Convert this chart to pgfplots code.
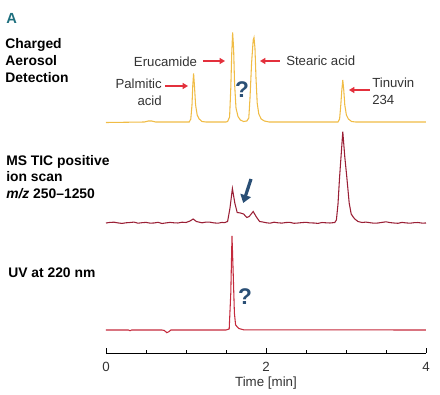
\documentclass[border=0pt]{standalone}
\usepackage{pgfplots}
\pgfplotsset{compat=1.18}
\usepackage{fontspec}
\setmainfont{Liberation Sans}
\usetikzlibrary{arrows.meta}
\definecolor{cad}{HTML}{F0BC45}
\definecolor{ms}{HTML}{9A1F35}
\definecolor{uv}{HTML}{C42A3C}
\definecolor{teal}{HTML}{1E6F7E}
\definecolor{qblue}{HTML}{2A4F75}
\definecolor{redarrow}{HTML}{E3303C}
\definecolor{txt}{HTML}{333333}
\begin{document}
\begin{tikzpicture}
\useasboundingbox (-79.5pt,-30.75pt) rectangle (250.5pt,264.75pt);
\begin{axis}[
  scale only axis,
  width=240pt, height=247.5pt,
  xmin=0, xmax=4, ymin=0, ymax=330,
  axis x line*=bottom, axis y line=none,
  xtick={0,2,4}, minor xtick={0.5,1,1.5,2.5,3,3.5},
  tick align=inside,
  major tick length=3.75pt, minor tick length=2.6pt,
  every tick/.style={black, line width=0.7pt},
  x axis line style={line width=0.7pt},
  /pgf/number format/assume math mode=true,
  tick label style={font=\fontsize{10}{12}\selectfont, text=txt},
  xticklabel style={yshift=-3.5pt},
  xlabel={Time [min]},
  xlabel style={font=\fontsize{10}{12}\selectfont, text=txt, yshift=3pt},
  clip=false,
]
% CAD
\addplot[cad, line width=0.8pt] coordinates {
(0.00,230.5) (0.30,230.8) (0.48,231) (0.53,232) (0.57,232) (0.62,231) (1.00,231)
(1.04,231) (1.06,234) (1.075,248) (1.085,268) (1.095,279.5) (1.105,268) (1.12,248) (1.14,238) (1.165,234) (1.20,231.5) (1.25,231)
(1.50,231) (1.52,231.5) (1.545,236) (1.56,265) (1.572,300) (1.583,320.5) (1.595,305) (1.607,270) (1.625,245) (1.65,236.5)
(1.68,233) (1.72,231.5) (1.76,232) (1.785,235) (1.80,255) (1.82,290) (1.84,313) (1.85,315.5) (1.862,305) (1.875,275)
(1.89,250) (1.91,239) (1.94,234) (1.98,232) (2.04,231) (2.85,231)
(2.90,231) (2.92,234) (2.935,248) (2.948,263) (2.96,273) (2.972,263) (2.985,248) (3.005,238) (3.03,234) (3.07,231.5) (3.12,231) (4.00,231)
};
% MS TIC
\addplot[ms, line width=0.8pt] coordinates {
(0.00,130) (0.05,130.6) (0.10,130.8) (0.15,130.1) (0.20,129.6) (0.25,130.2) (0.30,130.5) (0.35,130.9)
(0.40,129.8) (0.45,130.3) (0.50,130.6) (0.55,129.9) (0.60,130) (0.65,130.7) (0.70,129.5) (0.75,130.1)
(0.80,130.6) (0.85,130.2) (0.90,130) (0.95,130.8) (1.00,130.5) (1.05,132) (1.09,134) (1.13,131.5)
(1.20,130.2) (1.25,130.9) (1.30,130.8) (1.35,130.1) (1.40,129.8) (1.45,130.6) (1.48,130.3) (1.52,131.5)
(1.55,145) (1.58,164.5) (1.61,150) (1.64,140.5) (1.68,140) (1.72,139) (1.76,135.5) (1.79,136.5)
(1.84,141.5) (1.88,136) (1.92,131.5) (1.96,131) (2.00,130.3) (2.05,129.8) (2.10,130.8) (2.15,130.2)
(2.20,129.9) (2.25,130.5) (2.30,130.6) (2.35,129.7) (2.40,130) (2.45,130.4) (2.50,130.7) (2.55,130.1)
(2.60,130) (2.65,129.6) (2.70,130.5) (2.75,130.2) (2.80,130) (2.86,130.5) (2.88,133) (2.90,149) (2.92,176)
(2.96,221.3) (2.985,196) (3.01,176) (3.04,150) (3.065,139) (3.09,136) (3.11,134) (3.15,131.5) (3.20,130.5) (3.25,130.9)
(3.30,130.3) (3.35,129.8) (3.40,130) (3.45,130.6) (3.50,131.2) (3.55,130.4) (3.60,130) (3.65,129.7)
(3.70,130.6) (3.75,130.1) (3.80,129.8) (3.85,130.3) (3.90,130.5) (3.95,129.9) (4.00,130)
};
% UV
\addplot[uv, line width=0.8pt] coordinates {
(0.00,23) (0.28,23) (0.30,22.3) (0.32,23) (0.70,23) (0.73,22.5) (0.76,20.3) (0.79,21.5) (0.81,23)
(1.50,23) (1.54,24) (1.56,60) (1.575,117) (1.59,80) (1.605,40) (1.62,28) (1.66,24.5) (1.72,23.2) (4.00,23)
};
% left labels
\node[anchor=west, text=teal, font=\fontsize{11}{13}\selectfont\bfseries, inner sep=0pt] at (axis cs:-1.25,335) {A};
\node[anchor=west, align=left, font=\fontsize{10.4}{12.75}\selectfont\bfseries, inner sep=0pt] at (axis cs:-1.26,292) {Charged\\Aerosol\\Detection};
\node[anchor=west, align=left, font=\fontsize{10.4}{12.3}\selectfont\bfseries, inner sep=0pt] at (axis cs:-1.25,176) {MS TIC positive\\ion scan\\\textit{m/z} 250--1250};
\node[anchor=west, font=\fontsize{10.4}{12.75}\selectfont\bfseries, inner sep=0pt] at (axis cs:-1.225,80) {UV at 220 nm};
% annotations
\node[font=\fontsize{9.9}{12.75}\selectfont, text=txt, inner sep=0pt] at (axis cs:0.744,291) {Erucamide};
\node[anchor=west, font=\fontsize{9.9}{12.75}\selectfont, text=txt, inner sep=0pt] at (axis cs:2.25,292) {Stearic acid};
\node[anchor=east, align=right, font=\fontsize{9.9}{12.75}\selectfont, text=txt, inner sep=0pt] at (axis cs:0.70,260.5) {Palmitic\\acid};
\node[anchor=west, align=left, font=\fontsize{9.9}{12.75}\selectfont, text=txt, inner sep=0pt] at (axis cs:3.325,261.5) {Tinuvin\\234};
\draw[redarrow, line width=1.1pt, -{Triangle[length=4pt,width=4.5pt]}] (axis cs:1.2125,292) -- (axis cs:1.4875,292);
\draw[redarrow, line width=1.1pt, -{Triangle[length=4pt,width=4.5pt]}] (axis cs:2.175,292) -- (axis cs:1.925,292);
\draw[redarrow, line width=1.1pt, -{Triangle[length=4pt,width=4.5pt]}] (axis cs:0.7375,267) -- (axis cs:1.025,267);
\draw[redarrow, line width=1.1pt, -{Triangle[length=4pt,width=4.5pt]}] (axis cs:3.30,263) -- (axis cs:3.0375,263);
\draw[qblue, line width=2.4pt, -{Triangle[length=6pt,width=8pt]}] (axis cs:1.8125,174) -- (axis cs:1.715,150);
\node[text=qblue, font=\fontsize{17}{20}\selectfont\bfseries, inner sep=0pt] at (axis cs:1.70,263) {?};
\node[text=qblue, font=\fontsize{17}{20}\selectfont\bfseries, inner sep=0pt] at (axis cs:1.7375,56) {?};
\end{axis}
\end{tikzpicture}
\end{document}
